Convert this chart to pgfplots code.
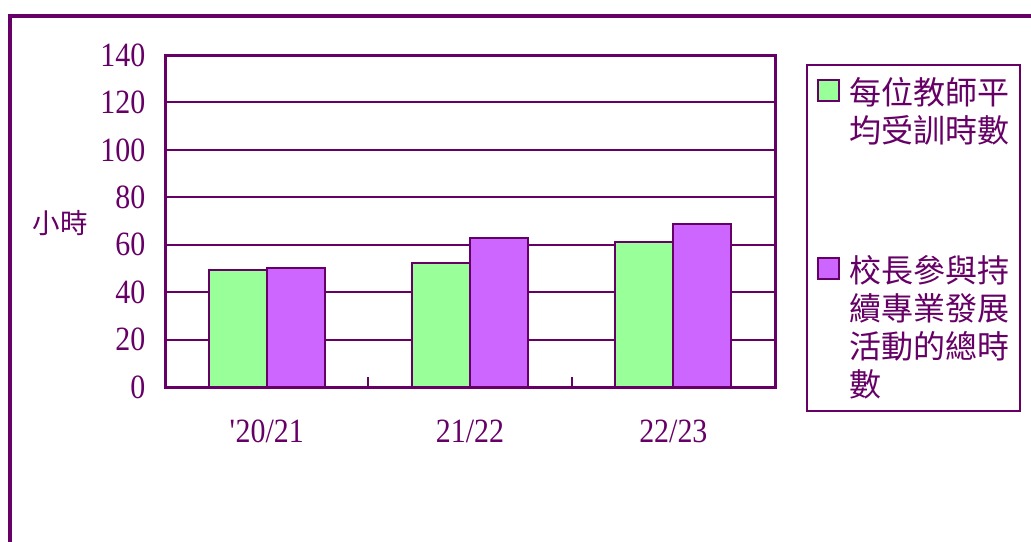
\documentclass[border=0pt]{standalone}
\usepackage{pgfplots}
\pgfplotsset{compat=1.18}
\usepackage{fontspec}
\setmainfont{Liberation Serif}
\newfontfamily\numfont[FakeStretch=0.88]{Liberation Serif}
\newfontfamily\cjk{Noto Sans CJK TC}
\definecolor{dpurple}{HTML}{660066}
\definecolor{bgreen}{HTML}{99FF99}
\definecolor{bpurple}{HTML}{CC66FF}
\pgfplotsset{mylegend/.style={legend image code/.code={\draw[##1] (0pt,#1-4.5pt) rectangle (10.5pt,#1+6pt); \path (15.5pt,-4.5pt);}}}
\begin{document}
\begin{tikzpicture}
\path[use as bounding box] (0,0) rectangle (515.5pt,-270.5pt);
\draw[dpurple, line width=2pt] (5pt,-300pt) -- (5pt,-8pt) -- (530pt,-8pt);
\begin{axis}[
  at={(82.5pt,-193.5pt)}, anchor=south west,
  scale only axis, width=305pt, height=166pt,
  xmin=-0.5, xmax=2.5, ymin=0, ymax=140,
  ybar=0pt, bar width=29pt,
  axis line style={dpurple, line width=1.5pt},
  ytick={0,20,...,140},
  ymajorgrids, grid style={dpurple, line width=1pt},
  xtick={0,1,2}, xticklabels={\textquotesingle 20/21,21/22,22/23},
  major x tick style={draw=none},
  minor xtick={0.5,1.5},
  tick align=inside, tick pos=left,
  major tick length=4pt, minor tick length=5pt,
  tick style={dpurple, line width=1pt},
  /pgf/number format/assume math mode=true,
  ticklabel style={font=\numfont\fontsize{17}{17}\selectfont, text=dpurple},
  xticklabel style={anchor=north, yshift=-13pt},
  yticklabel style={anchor=east, xshift=-6.3pt},
  ylabel={小時},
  every axis y label/.style={at={(rel axis cs:-0.172,0.494)}, anchor=center, font=\cjk\fontsize{13.75}{14}\selectfont, text=dpurple},
  legend style={at={(1.0508,0.973)}, anchor=north west, draw=dpurple, line width=1pt, fill=white,
    inner xsep=5pt, inner ysep=6pt, row sep=55pt,
    nodes={inner sep=0pt, align=left, text=dpurple, font=\cjk\fontsize{16}{19}\selectfont}},
  legend cell align=left,
]
\addplot[fill=bgreen, draw=dpurple, line width=1pt, mylegend=9.35pt]
  coordinates {(0,49.3) (1,52.2) (2,61.3)};
\addplot[fill=bpurple, draw=dpurple, line width=1pt, mylegend=28.35pt]
  coordinates {(0,50.0) (1,63.0) (2,68.8)};
\addlegendentry{每位教師平\\均受訓時數}
\addlegendentry{校長參與持\\續專業發展\\活動的總時\\數}
\end{axis}
\end{tikzpicture}
\end{document}
